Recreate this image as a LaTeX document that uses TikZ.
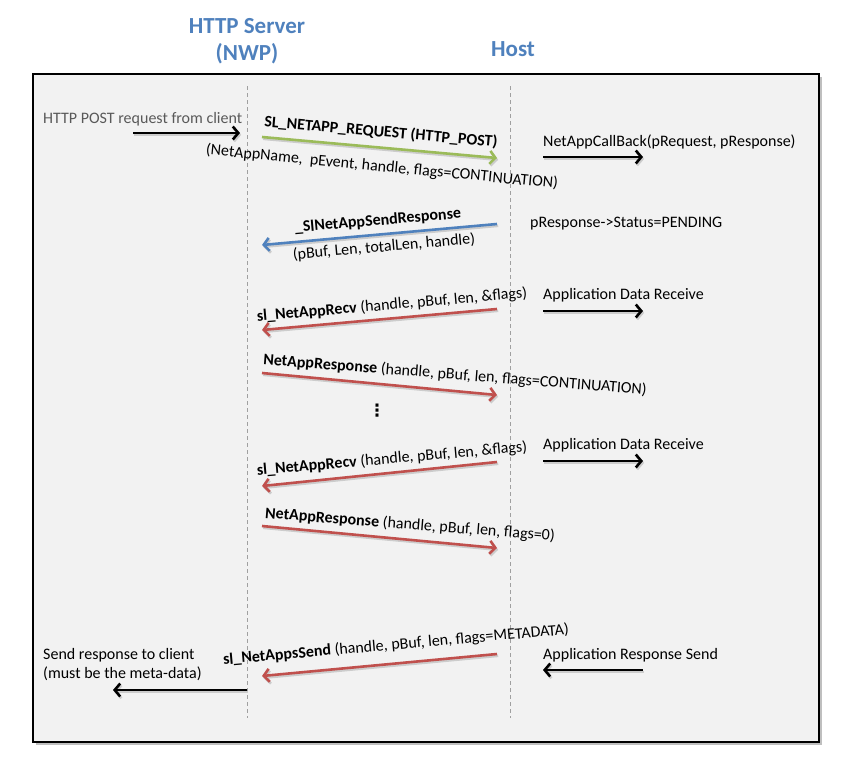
\documentclass[tikz,border=0pt]{standalone}
\usepackage{fontspec}
\setmainfont{Carlito}
\newfontfamily\djv{DejaVu Sans}
\usetikzlibrary{arrows.meta}
\definecolor{bgc}{HTML}{F2F2F2}
\definecolor{ttlc}{HTML}{4F81BD}
\definecolor{grnc}{HTML}{9BBB59}
\definecolor{bluc}{HTML}{4F81BD}
\definecolor{redc}{HTML}{C0504D}
\definecolor{txtgray}{HTML}{595959}
\definecolor{lifec}{HTML}{A0A0A0}
\begin{document}
\begin{tikzpicture}[x=1pt,y=-1pt,
  msg/.style={line width=2.6pt, -{Straight Barb[length=5.5pt,width=13pt]},
    preaction={draw=black!20, line width=2.6pt, transform canvas={shift={(1.2pt,-1.8pt)}}}},
  lbl/.style={font=\fontsize{16}{19}\selectfont, inner sep=0pt},
  ttl/.style={font=\fontsize{23}{27}\selectfont\bfseries, text=ttlc, align=center, inner sep=0pt},
  life/.style={draw=lifec, line width=0.8pt, dash pattern=on 4pt off 3pt}]
\useasboundingbox (0,0) rectangle (854,758);
% frame
\fill[black!25] (35.5,76.5) rectangle (821.5,744.5);
\draw[fill=bgc, line width=1.2pt] (33,74) rectangle (819,742);
% titles
\node[ttl] (tserver) at (247,41) {HTTP Server\\(NWP)};
\node[ttl] (thost) at (513,49) {Host};
% lifelines
\coordinate (sT) at (247,86); \coordinate (sB) at (247,718);
\coordinate (hT) at (510,86); \coordinate (hB) at (510,718);
\draw[life] (sT) -- (sB);
\draw[life] (hT) -- (hB);
% 1 HTTP POST request from client
\node[lbl, anchor=west, text=txtgray] (t1) at (43,119) {HTTP POST request from client};
\coordinate (a1s) at (133,133); \coordinate (a1e) at (240,133);
\draw[msg] (a1s) -- (a1e);
% 2 green request
\coordinate (a2s) at (262,137); \coordinate (a2e) at (497,158);
\draw[msg, draw=grnc] (a2s) -- (a2e);
\node[lbl, rotate=-5] (t2a) at (381,132) {\bfseries SL\_NETAPP\_REQUEST (HTTP\_POST)};
\node[lbl, rotate=-5.5] (t2b) at (382,167) {(NetAppName,\ \ pEvent, handle, flags=CONTINUATION)};
% 3 callback
\node[lbl, anchor=west] (t3) at (543,142) {NetAppCallBack(pRequest, pResponse)};
\coordinate (a3s) at (543,157); \coordinate (a3e) at (643,157);
\draw[msg] (a3s) -- (a3e);
% 4 blue send response
\coordinate (a4s) at (497,224); \coordinate (a4e) at (262,245);
\draw[msg, draw=bluc] (a4s) -- (a4e);
\node[lbl, rotate=5] (t4a) at (378,221) {\bfseries \_SlNetAppSendResponse};
\node[lbl, rotate=5] (t4b) at (384,247) {(pBuf, Len, totalLen, handle)};
\node[lbl, anchor=west] (t5) at (530,224) {pResponse->Status=PENDING};
% 6 recv
\coordinate (a6s) at (497,309); \coordinate (a6e) at (262,330);
\draw[msg, draw=redc] (a6s) -- (a6e);
\node[lbl, rotate=5] (t6) at (392,305) {{\bfseries sl\_NetAppRecv} (handle, pBuf, len, \&flags)};
\node[lbl, anchor=west] (t7) at (543,295) {Application Data Receive};
\coordinate (a7s) at (543,311); \coordinate (a7e) at (643,311);
\draw[msg] (a7s) -- (a7e);
% 8 response continuation
\coordinate (a8s) at (262,373); \coordinate (a8e) at (497,395);
\draw[msg, draw=redc] (a8s) -- (a8e);
\node[lbl, rotate=-4.5] (t8) at (455,375) {{\bfseries NetAppResponse} (handle, pBuf, len, flags=CONTINUATION)};
% dots
\node[font=\djv\fontsize{17}{17}\selectfont\bfseries, inner sep=0pt] (dots) at (377,411) {⋮};
% 10 recv
\coordinate (a10s) at (497,462); \coordinate (a10e) at (262,486);
\draw[msg, draw=redc] (a10s) -- (a10e);
\node[lbl, rotate=5] (t10) at (392,459) {{\bfseries sl\_NetAppRecv} (handle, pBuf, len, \&flags)};
\node[lbl, anchor=west] (t11) at (543,445) {Application Data Receive};
\coordinate (a11s) at (543,461); \coordinate (a11e) at (643,461);
\draw[msg] (a11s) -- (a11e);
% 12 response 0
\coordinate (a12s) at (262,526); \coordinate (a12e) at (497,548);
\draw[msg, draw=redc] (a12s) -- (a12e);
\node[lbl, rotate=-4.5] (t12) at (410,525) {{\bfseries NetAppResponse} (handle, pBuf, len, flags=0)};
% 13 send
\coordinate (a13s) at (497,654); \coordinate (a13e) at (262,676);
\draw[msg, draw=redc] (a13s) -- (a13e);
\node[lbl, rotate=5] (t13) at (396,645) {{\bfseries sl\_NetAppsSend} (handle, pBuf, len, flags=METADATA)};
\node[lbl, anchor=west] (t14) at (543,655) {Application Response Send};
\coordinate (a14s) at (643,670); \coordinate (a14e) at (543,670);
\draw[msg] (a14s) -- (a14e);
% 15 send to client
\node[lbl, anchor=west, align=left] (t15) at (43,665) {Send response to client\\(must be the meta-data)};
\coordinate (a15s) at (247,690); \coordinate (a15e) at (113,690);
\draw[msg] (a15s) -- (a15e);
\end{tikzpicture}
\end{document}
